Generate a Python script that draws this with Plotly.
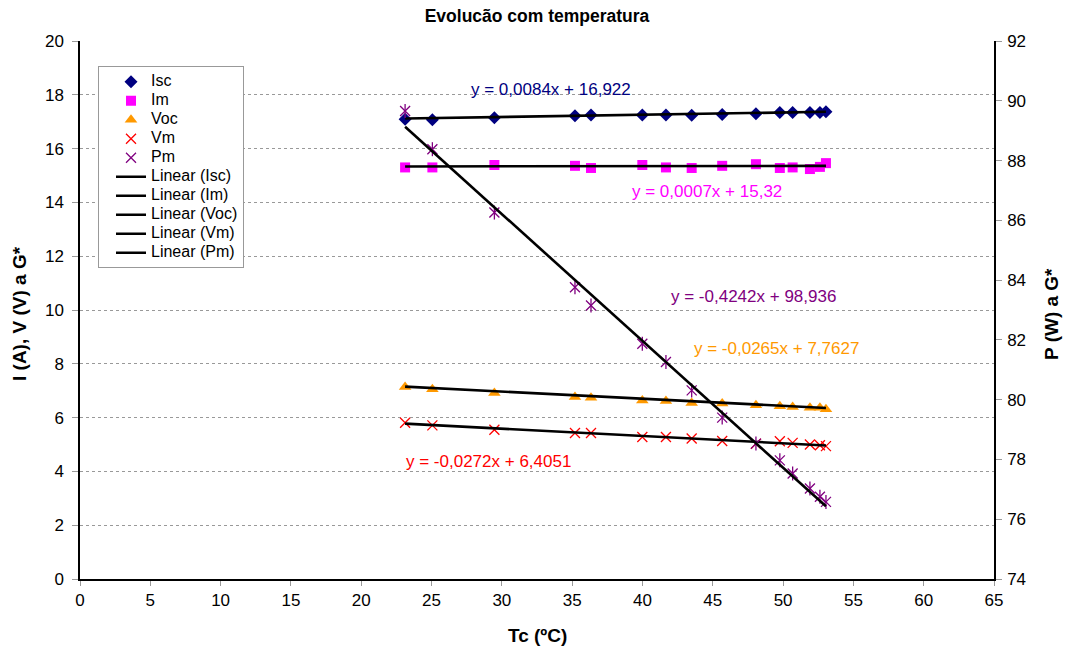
import plotly.graph_objects as go

# Cell temperature (ºC)
tc = [23.12, 25.06, 29.47, 35.20, 36.34, 39.99, 41.67, 43.50, 45.67, 48.07, 49.77, 50.68, 51.91, 52.62, 53.05]

# Currents (A) and voltages (V) referred to G*
isc = [17.09, 17.07, 17.15, 17.22, 17.25, 17.25, 17.25, 17.24, 17.27, 17.30, 17.34, 17.34, 17.34, 17.34, 17.37]
im = [15.30, 15.30, 15.39, 15.36, 15.28, 15.39, 15.30, 15.28, 15.36, 15.42, 15.28, 15.30, 15.24, 15.32, 15.46]
voc = [7.14, 7.05, 6.91, 6.77, 6.74, 6.64, 6.62, 6.54, 6.52, 6.46, 6.42, 6.39, 6.37, 6.37, 6.31]
vm = [5.81, 5.71, 5.55, 5.43, 5.43, 5.28, 5.28, 5.22, 5.13, 5.03, 5.12, 5.06, 5.00, 4.97, 4.94]

# Maximum power (W) referred to G*
pm = [89.66, 88.38, 86.26, 83.76, 83.15, 81.87, 81.26, 80.31, 79.40, 78.53, 77.97, 77.53, 77.03, 76.75, 76.58]

# Linear trend coefficients (slope, intercept)
series_names = ["Isc", "Im", "Voc", "Vm", "Pm"]
slopes = [0.0084, 0.0007, -0.0265, -0.0272, -0.4242]
intercepts = [16.922, 15.32, 7.7627, 6.4051, 98.936]
equations = ["y = 0,0084x + 16,922", "y = 0,0007x + 15,32", "y = -0,0265x + 7,7627",
             "y = -0,0272x + 6,4051", "y = -0,4242x + 98,936"]

colors = {"Isc": "#000080", "Im": "#FF00FF", "Voc": "#FF9900", "Vm": "#FF0000", "Pm": "#800080"}
FONT = "Liberation Sans, Arial, sans-serif"


def legend_label(text):
    # legend rows stay compact while the label itself is drawn larger
    return f'<span style="font-size:16px">{text}</span>'


fig = go.Figure()

fig.add_trace(go.Scatter(x=tc, y=isc, name=legend_label("Isc"), mode="markers",
                         marker=dict(symbol="diamond", size=10, color=colors["Isc"])))
fig.add_trace(go.Scatter(x=tc, y=im, name=legend_label("Im"), mode="markers",
                         marker=dict(symbol="square", size=10, color=colors["Im"])))
fig.add_trace(go.Scatter(x=tc, y=voc, name=legend_label("Voc"), mode="markers",
                         marker=dict(symbol="triangle-up", size=11, color=colors["Voc"])))
fig.add_trace(go.Scatter(x=tc, y=vm, name=legend_label("Vm"), mode="markers",
                         marker=dict(symbol="x-thin-open", size=10, color=colors["Vm"],
                                     line=dict(width=1.3, color=colors["Vm"]))))
fig.add_trace(go.Scatter(x=tc, y=pm, name=legend_label("Pm"), mode="markers", yaxis="y2",
                         legendgroup="pm",
                         marker=dict(symbol="x-thin-open", size=10, color=colors["Pm"],
                                     line=dict(width=1.3, color=colors["Pm"]))))
fig.add_trace(go.Scatter(x=tc, y=pm, name="Pm", mode="markers", yaxis="y2", legendgroup="pm",
                         showlegend=False, hoverinfo="skip",
                         marker=dict(symbol="line-ns-open", size=10, color=colors["Pm"],
                                     line=dict(width=1.3, color=colors["Pm"]))))

# Trend lines over the measured temperature span
x0, x1 = min(tc), max(tc)
for name, a, b in zip(series_names, slopes, intercepts):
    fig.add_trace(go.Scatter(x=[x0, x1], y=[a * x0 + b, a * x1 + b], mode="lines",
                             name=legend_label(f"Linear ({name})"),
                             yaxis="y2" if name == "Pm" else "y",
                             line=dict(color="black", width=2.6)))

# Trend equations
eq_pos = {"Isc": (27.66, 18.21), "Im": (39.1, 14.39), "Voc": (43.5, 8.58),
          "Vm": (23.04, 4.37), "Pm": (41.9, 10.49)}
annotations = []
for name, text in zip(series_names, equations):
    ex, ey = eq_pos[name]
    annotations.append(dict(x=ex, y=ey, xref="x", yref="y", text=text, showarrow=False,
                            xanchor="left", yanchor="middle",
                            font=dict(family=FONT, size=17, color=colors[name])))

# Axis titles
annotations += [
    dict(x=0.5, y=0, xref="paper", yref="paper", yshift=-56, text="<b>Tc (ºC)</b>",
         showarrow=False, yanchor="middle", font=dict(family=FONT, size=19, color="black")),
    dict(x=0, y=0.4926, xref="paper", yref="paper", xshift=-60, text="<b>I (A), V (V) a G*</b>",
         textangle=-90, showarrow=False, xanchor="center", yanchor="middle",
         font=dict(family=FONT, size=19, color="black")),
    dict(x=1, y=0.4926, xref="paper", yref="paper", xshift=58, text="<b>P (W) a G*</b>",
         textangle=-90, showarrow=False, xanchor="center", yanchor="middle",
         font=dict(family=FONT, size=19, color="black")),
]

fig.update_layout(
    width=1069, height=650,
    margin=dict(l=80, r=75, t=41, b=71),
    paper_bgcolor="white", plot_bgcolor="white",
    font=dict(family=FONT, size=17, color="black"),
    title=dict(text="<b>Evolucão com temperatura</b>", x=0.5, xref="paper", xanchor="center",
               y=1 - 16 / 650, yref="container", yanchor="middle",
               font=dict(family=FONT, size=17.5, color="black")),
    xaxis=dict(range=[0, 65], dtick=5, tick0=0, showgrid=False, zeroline=False,
               showline=True, linecolor="black", linewidth=1.5,
               ticks="outside", ticklen=5, tickcolor="#999999", tickwidth=1,
               tickfont=dict(family=FONT, size=17, color="black")),
    yaxis=dict(range=[0, 20], dtick=2, tick0=0, showgrid=True, gridcolor="#999999",
               griddash="dot", gridwidth=1, zeroline=False,
               showline=True, linecolor="black", linewidth=1.5,
               ticks="outside", ticklen=6, tickcolor="#999999", tickwidth=1,
               ticklabelstandoff=5,
               tickfont=dict(family=FONT, size=17, color="black")),
    yaxis2=dict(range=[74, 92], dtick=2, tick0=74, overlaying="y", side="right",
                showgrid=False, zeroline=False,
                showline=True, linecolor="black", linewidth=1.5,
                ticks="outside", ticklen=6, tickcolor="#999999", tickwidth=1,
                ticklabelstandoff=2,
                tickfont=dict(family=FONT, size=17, color="black")),
    legend=dict(x=0.0197, y=0.953, xanchor="left", yanchor="top",
                bgcolor="white", bordercolor="#999999", borderwidth=1,
                font=dict(family=FONT, size=12, color="black"),
                tracegroupgap=0, itemwidth=30, indentation=12),
    annotations=annotations,
    showlegend=True,
)

fig.write_html("out.html")
